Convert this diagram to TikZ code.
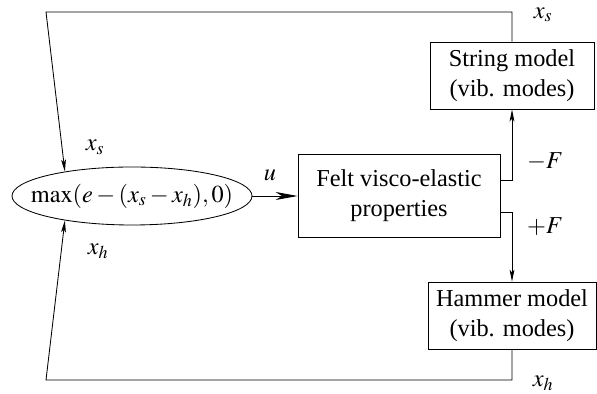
\documentclass[tikz,border=0pt]{standalone}
\usepackage{mathptmx}
\usepackage{fontspec}
\setmainfont{Liberation Serif}
\usetikzlibrary{arrows.meta, positioning, shapes.geometric}

\tikzset{
  block/.style={draw, rectangle, align=center, inner sep=0pt},
  wire/.style={-{Stealth[length=3mm, width=1.2mm, inset=0.7mm]}},
  bigwire/.style={-{Stealth[length=5.5mm, width=2mm, inset=1.6mm]}},
}

\begin{document}
\begin{tikzpicture}[line width=0.6pt, font=\fontsize{17.3}{21.3}\selectfont]
  \useasboundingbox (0,0) rectangle (14.925,9.85);
  % contact law and felt
  \node[draw, ellipse, minimum width=6cm, minimum height=1.45cm, inner xsep=-0.45cm, inner ysep=0pt] (contact) at (3.3,4.95) {$\max(e-(x_s-x_h),0)$};
  \node[block, minimum width=5.05cm, minimum height=2.075cm] (felt) at (9.975,4.95) {Felt visco-elastic\\properties};
  % modal models
  \node[block, minimum width=4.1cm, minimum height=1.675cm] (string) at (12.8,7.96) {String model\\(vib. modes)};
  \node[block, minimum width=4.2cm, minimum height=1.675cm] (hammer) at (12.8,1.96) {Hammer model\\(vib. modes)};

  % feedback loops
  \coordinate (topleft) at (1.15,9.55);
  \coordinate (botleft) at (1.15,0.35);
  \draw[wire] (string.north) |- (topleft) -- (contact.160);
  \draw[wire] (hammer.south) |- (botleft) -- (contact.200);

  % forces
  \draw[bigwire] (contact) -- (felt);
  \draw[wire] ([yshift=0.38cm]felt.east) -| (string.south);
  \draw[wire] ([yshift=-0.4cm]felt.east) -| (hammer.north);

  % labels
  \node (lxs) at (2.375,6.175) {$x_s$};
  \node (lxh) at (2.45,3.575) {$x_h$};
  \node (lu) at (6.75,5.475) {$u$};
  \node (lmf) at (13.625,5.8) {$-F$};
  \node (lpf) at (13.625,4.175) {$+F$};
  \node (lxs2) at (13.575,9.475) {$x_s$};
  \node (lxh2) at (13.575,0.27) {$x_h$};
\end{tikzpicture}
\end{document}
